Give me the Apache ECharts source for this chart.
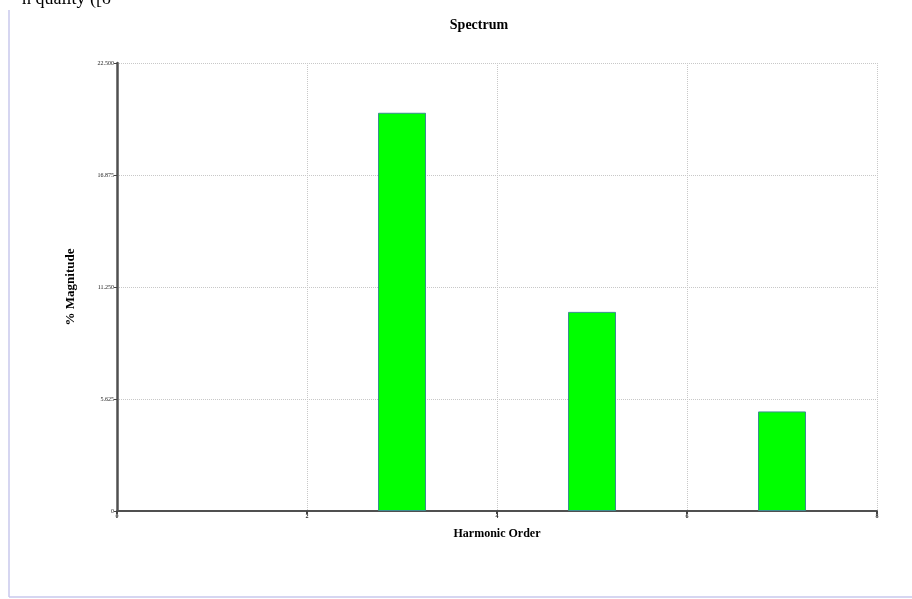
<!DOCTYPE html>
<html>
<head>
<meta charset="utf-8">
<script src="https://cdn.jsdelivr.net/npm/echarts@6/dist/echarts.min.js"></script>
<style>html,body{margin:0;padding:0;background:#fff;}#c{width:912px;height:599px;}</style>
</head>
<body>
<div id="c"></div>
<script>
var harmonicOrders = [3, 5, 7];
var magnitudes = [20, 10, 5];
var yTicks = { min: 0, max: 22.5, interval: 5.625 };
var xTicks = { min: 0, max: 8, interval: 2 };

var chart = echarts.init(document.getElementById('c'));
var data = harmonicOrders.map(function (h, i) { return [h, magnitudes[i]]; });
var serif = '"Liberation Serif", "DejaVu Serif", serif';
chart.setOption({
  animation: false,
  backgroundColor: '#fff',
  title: {
    text: 'Spectrum', left: 474, top: 13, textAlign: 'center',
    textStyle: { fontFamily: serif, fontWeight: 'bold', fontSize: 14, color: '#000' }
  },
  graphic: [
    { type: 'text', left: 22, top: -10, style: { text: 'n quality ([o', font: '18px "Liberation Serif", serif', fill: '#000' } },
    { type: 'line', shape: { x1: 9, y1: 10, x2: 9, y2: 597 }, style: { stroke: '#c8c8ec', lineWidth: 1.5 } },
    { type: 'line', shape: { x1: 9, y1: 597, x2: 912, y2: 597 }, style: { stroke: '#c8c8ec', lineWidth: 1.5 } }
  ],
  grid: { left: 117, right: 35, top: 63, bottom: 88 },
  xAxis: {
    type: 'value', min: xTicks.min, max: xTicks.max, interval: xTicks.interval,
    name: 'Harmonic Order', nameLocation: 'middle', nameGap: 17,
    nameTextStyle: { fontFamily: serif, fontWeight: 'bold', fontSize: 12, color: '#000' },
    axisLine: { show: true, onZero: false, lineStyle: { color: '#505050', width: 2 } },
    axisTick: { show: true, length: 3, lineStyle: { color: '#444', width: 2 } },
    axisLabel: { fontSize: 6, margin: 2, color: '#222', fontFamily: serif, fontWeight: 'bold' },
    splitLine: { show: true, lineStyle: { color: '#c8c8c8', type: 'dotted', width: 1 } }
  },
  yAxis: {
    type: 'value', min: yTicks.min, max: yTicks.max, interval: yTicks.interval,
    name: '% Magnitude', nameLocation: 'middle', nameGap: 40,
    nameTextStyle: { fontFamily: serif, fontWeight: 'bold', fontSize: 13, color: '#000' },
    axisLine: { show: true, lineStyle: { color: '#505050', width: 2.5 } },
    axisTick: { show: true, length: 3, lineStyle: { color: '#444', width: 1 } },
    axisLabel: { fontSize: 6, margin: 3, color: '#222', fontFamily: serif,
      formatter: function (v) { return v === 0 ? '0' : v.toFixed(3); } },
    splitLine: { show: true, lineStyle: { color: '#c8c8c8', type: 'dotted', width: 1 } }
  },
  series: [{
    type: 'bar', data: data, barWidth: 48,
    itemStyle: { color: '#00ff00', borderColor: '#3a8f8f', borderWidth: 1 }
  }]
});
</script>
</body>
</html>
